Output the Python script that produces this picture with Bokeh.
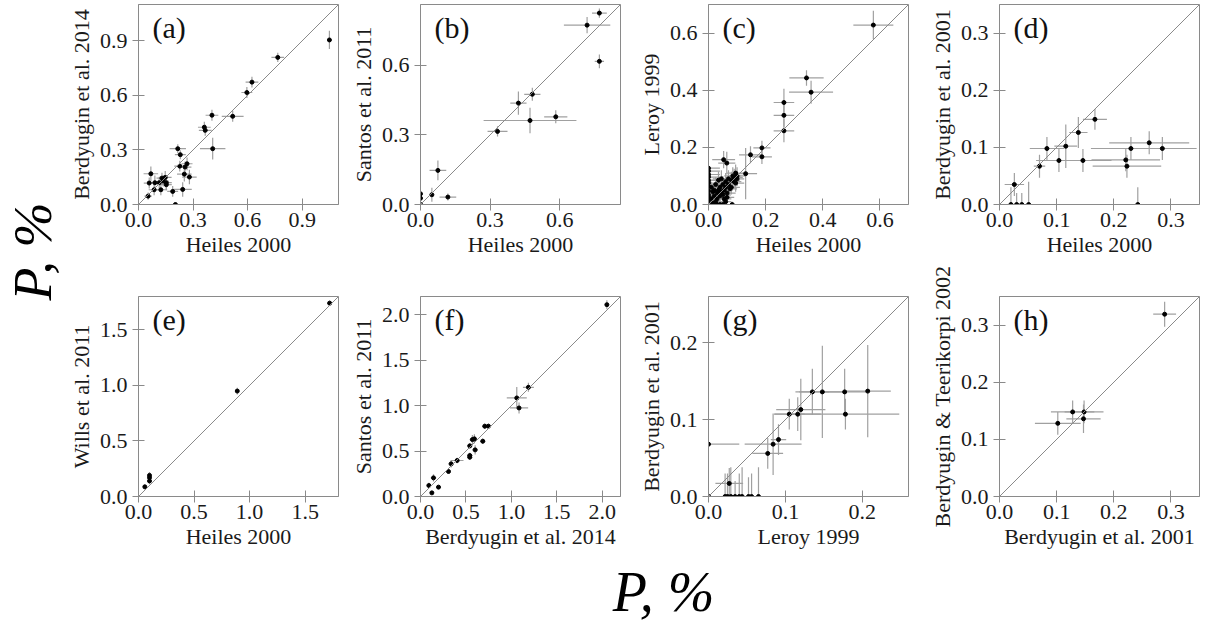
import numpy as np
from math import pi
from bokeh.plotting import figure
from bokeh.models import Range1d, FixedTicker, NumeralTickFormatter, Slope, Label
from bokeh.layouts import row, column
from bokeh.embed import file_html
from bokeh.resources import INLINE

FONT = "Liberation Serif"
GRAY = "#8a8a8a"
ERR = "#a0a0a0"

# ---------------- data ----------------
# (a) Heiles 2000 vs Berdyugin et al. 2014
a_x = [0.766, 0.624, 0.596, 0.518, 0.404, 0.362, 0.367, 0.408, 0.216, 0.230, 0.267, 0.227, 0.256, 0.252, 0.280,
       0.243, 0.188, 0.203, 0.068, 0.059, 0.090, 0.114, 0.129, 0.147, 0.136, 0.153, 0.123, 0.086, 0.053, 0.153, 1.05]
a_y = [0.809, 0.673, 0.616, 0.485, 0.491, 0.425, 0.408, 0.307, 0.307, 0.274, 0.224, 0.211, 0.206, 0.167, 0.151,
       0.083, 0.072, 0.000, 0.169, 0.118, 0.120, 0.120, 0.145, 0.149, 0.129, 0.120, 0.081, 0.081, 0.046, 0.109, 0.905]
a_xe = [0.035, 0.035, 0.030, 0.060, 0.035, 0.035, 0.035, 0.070, 0.045, 0.030, 0.030, 0.030, 0.035, 0.040, 0.040,
        0.050, 0.030, 0.010, 0.040, 0.030, 0.040, 0.035, 0.030, 0.035, 0.030, 0.030, 0.035, 0.030, 0.020, 0.030, 0.010]
a_ye = [0.025, 0.030, 0.030, 0.030, 0.030, 0.030, 0.030, 0.060, 0.025, 0.025, 0.035, 0.030, 0.030, 0.040, 0.040,
        0.040, 0.030, 0.010, 0.040, 0.030, 0.040, 0.030, 0.030, 0.035, 0.030, 0.040, 0.030, 0.030, 0.020, 0.030, 0.050]

# (b) Heiles 2000 vs Santos et al. 2011
b_x = [0.771, 0.718, 0.771, 0.482, 0.422, 0.472, 0.583, 0.332, 0.075, 0.049, 0.118, 0.0, 0.0, 0.0]
b_y = [0.825, 0.773, 0.617, 0.475, 0.437, 0.362, 0.378, 0.315, 0.147, 0.042, 0.032, 0.046, 0.027, 0.0]
b_xe = [0.032, 0.100, 0.020, 0.035, 0.035, 0.200, 0.050, 0.043, 0.036, 0.010, 0.036, 0.010, 0.010, 0.0]
b_ye = [0.020, 0.035, 0.030, 0.028, 0.050, 0.055, 0.028, 0.022, 0.043, 0.030, 0.015, 0.010, 0.010, 0.0]

# (c) Heiles 2000 vs Leroy 1999
c_x = [0.577, 0.343, 0.359, 0.264, 0.264, 0.264, 0.187, 0.187, 0.147, 0.130, 0.053, 0.064,
       0.0, 0.0, 0.0, 0.0, 0.0, 0.0, 0.0, 0.0, 0.0, 0.0, 0.0, 0.0,
       0.010, 0.015, 0.020, 0.025, 0.030, 0.030, 0.035, 0.040, 0.040, 0.045, 0.050, 0.050, 0.055, 0.060,
       0.060, 0.065, 0.070, 0.070, 0.075, 0.080, 0.085, 0.090, 0.090, 0.095, 0.100, 0.100, 0.095, 0.020,
       0.025, 0.035, 0.045, 0.055, 0.060, 0.015, 0.010, 0.040, 0.020, 0.030, 0.050, 0.065, 0.080, 0.083]
c_y = [0.628, 0.443, 0.393, 0.357, 0.312, 0.258, 0.198, 0.167, 0.174, 0.108, 0.157, 0.145,
       0.127, 0.117, 0.105, 0.096, 0.084, 0.075, 0.063, 0.047, 0.034, 0.026, 0.014, 0.0,
       0.020, 0.005, 0.030, 0.010, 0.040, 0.020, 0.050, 0.030, 0.060, 0.045, 0.070, 0.035, 0.050, 0.080,
       0.060, 0.040, 0.090, 0.070, 0.055, 0.085, 0.100, 0.095, 0.080, 0.110, 0.100, 0.090, 0.075, 0.050,
       0.070, 0.085, 0.090, 0.020, 0.010, 0.045, 0.060, 0.000, 0.000, 0.000, 0.000, 0.025, 0.060, 0.0]
c_xe = [0.070, 0.060, 0.077, 0.036, 0.036, 0.036, 0.030, 0.035, 0.040, 0.040, 0.040, 0.030,
        0.040, 0.040, 0.040, 0.040, 0.040, 0.040, 0.040, 0.040, 0.040, 0.040, 0.040, 0.040,
        0.020, 0.020, 0.025, 0.020, 0.030, 0.020, 0.030, 0.025, 0.030, 0.030, 0.030, 0.025, 0.030, 0.030,
        0.025, 0.030, 0.030, 0.030, 0.025, 0.030, 0.030, 0.030, 0.025, 0.030, 0.030, 0.025, 0.030, 0.020,
        0.025, 0.030, 0.030, 0.025, 0.020, 0.020, 0.020, 0.020, 0.020, 0.020, 0.020, 0.025, 0.030, 0.010]
c_ye = [0.050, 0.027, 0.040, 0.048, 0.040, 0.040, 0.025, 0.025, 0.030, 0.090, 0.030, 0.040,
        0.010, 0.010, 0.010, 0.010, 0.010, 0.010, 0.010, 0.010, 0.010, 0.010, 0.010, 0.010,
        0.020, 0.015, 0.020, 0.020, 0.025, 0.020, 0.025, 0.020, 0.030, 0.025, 0.030, 0.025, 0.025, 0.030,
        0.025, 0.025, 0.030, 0.030, 0.025, 0.030, 0.030, 0.030, 0.025, 0.030, 0.030, 0.025, 0.030, 0.020,
        0.025, 0.030, 0.030, 0.020, 0.015, 0.020, 0.020, 0.020, 0.020, 0.020, 0.020, 0.020, 0.025, 0.010]

# (d) Heiles 2000 vs Berdyugin et al. 2001
d_x = [0.167, 0.138, 0.116, 0.083, 0.070, 0.104, 0.146, 0.221, 0.223, 0.230, 0.262, 0.285, 0.242, 0.026,
       0.020, 0.030, 0.039, 0.051]
d_y = [0.149, 0.126, 0.102, 0.098, 0.067, 0.077, 0.077, 0.078, 0.067, 0.098, 0.108, 0.098, 0.0, 0.035,
       0.0, 0.0, 0.0, 0.0]
d_xe = [0.021, 0.016, 0.020, 0.030, 0.010, 0.040, 0.050, 0.060, 0.060, 0.070, 0.070, 0.060, 0.005, 0.017,
        0.005, 0.005, 0.005, 0.005]
d_ye = [0.018, 0.027, 0.038, 0.020, 0.020, 0.020, 0.020, 0.020, 0.020, 0.020, 0.020, 0.020, 0.030, 0.020,
        0.030, 0.020, 0.020, 0.040]

# (e) Heiles 2000 vs Wills et al. 2011
e_x = [1.72, 0.889, 0.057, 0.099, 0.099, 0.099]
e_y = [1.74, 0.949, 0.087, 0.190, 0.170, 0.140]
e_xe = [0.015, 0.015, 0.015, 0.010, 0.010, 0.010]
e_ye = [0.025, 0.030, 0.020, 0.030, 0.030, 0.030]

# (f) Berdyugin et al. 2014 vs Santos et al. 2011
f_x = [2.05, 1.187, 1.059, 1.084, 0.747, 0.707, 0.685, 0.593, 0.571, 0.601, 0.542, 0.542, 0.542, 0.403,
       0.337, 0.308, 0.143, 0.092, 0.125, 0.198]
f_y = [2.11, 1.201, 1.084, 0.974, 0.773, 0.773, 0.608, 0.634, 0.626, 0.513, 0.557, 0.451, 0.432, 0.396,
       0.359, 0.275, 0.205, 0.121, 0.040, 0.103]
f_xe = [0.020, 0.060, 0.110, 0.100, 0.030, 0.030, 0.030, 0.030, 0.030, 0.030, 0.030, 0.030, 0.030, 0.070,
        0.030, 0.020, 0.030, 0.020, 0.020, 0.020]
f_ye = [0.050, 0.050, 0.120, 0.060, 0.030, 0.030, 0.030, 0.050, 0.050, 0.050, 0.030, 0.030, 0.030, 0.030,
        0.040, 0.020, 0.040, 0.030, 0.020, 0.020]

# (g) Leroy 1999 vs Berdyugin et al. 2001
g_x = [0.207, 0.177, 0.148, 0.135, 0.178, 0.120, 0.116, 0.105, 0.091, 0.084, 0.077, 0.0, 0.027,
       0.0, 0.0216, 0.0247, 0.029, 0.0346, 0.040, 0.0437, 0.052, 0.056, 0.065]
g_y = [0.137, 0.136, 0.136, 0.136, 0.107, 0.113, 0.107, 0.107, 0.074, 0.068, 0.056, 0.068, 0.017,
       0.0, 0.0, 0.0, 0.0, 0.0, 0.0, 0.0, 0.0, 0.0, 0.0]
g_xe = [0.030, 0.030, 0.030, 0.022, 0.070, 0.032, 0.030, 0.020, 0.010, 0.037, 0.020, 0.040, 0.018,
        0.0, 0.002, 0.002, 0.002, 0.002, 0.002, 0.002, 0.002, 0.002, 0.002]
g_ye = [0.060, 0.030, 0.060, 0.030, 0.020, 0.040, 0.022, 0.020, 0.020, 0.040, 0.020, 0.0, 0.020,
        0.0, 0.030, 0.030, 0.038, 0.020, 0.030, 0.038, 0.025, 0.030, 0.038]

# (h) Berdyugin et al. 2001 vs Berdyugin & Teerikorpi 2002
h_x = [0.289, 0.128, 0.148, 0.147, 0.102]
h_y = [0.319, 0.148, 0.148, 0.136, 0.128]
h_xe = [0.020, 0.038, 0.034, 0.030, 0.040]
h_ye = [0.022, 0.020, 0.020, 0.025, 0.020]

# panel settings: tag, data, axis limit, ticks, xlabel, ylabel
panels = [
    ("(a)", a_x, a_y, a_xe, a_ye, 1.10, [0, 0.3, 0.6, 0.9], "Heiles 2000", "Berdyugin et al. 2014"),
    ("(b)", b_x, b_y, b_xe, b_ye, 0.862, [0, 0.3, 0.6], "Heiles 2000", "Santos et al. 2011"),
    ("(c)", c_x, c_y, c_xe, c_ye, 0.70, [0, 0.2, 0.4, 0.6], "Heiles 2000", "Leroy 1999"),
    ("(d)", d_x, d_y, d_xe, d_ye, 0.35, [0, 0.1, 0.2, 0.3], "Heiles 2000", "Berdyugin et al. 2001"),
    ("(e)", e_x, e_y, e_xe, e_ye, 1.80, [0, 0.5, 1.0, 1.5], "Heiles 2000", "Wills et al. 2011"),
    ("(f)", f_x, f_y, f_xe, f_ye, 2.20, [0, 0.5, 1.0, 1.5, 2.0], "Berdyugin et al. 2014", "Santos et al. 2011"),
    ("(g)", g_x, g_y, g_xe, g_ye, 0.26, [0, 0.1, 0.2], "Leroy 1999", "Berdyugin et al. 2001"),
    ("(h)", h_x, h_y, h_xe, h_ye, 0.35, [0, 0.1, 0.2, 0.3], "Berdyugin et al. 2001", "Berdyugin & Teerikorpi 2002"),
]

# column geometry: (figure width, left border, right border)
cols = [(277, 75, 2), (285, 80, 5), (285, 83, 2), (296, 89, 7)]
# row geometry: (figure height, top border, bottom border)
rows_geo = [(260, 4, 56), (292, 36, 56)]


def make_panel(i, spec):
    tag, xs, ys, xe, ye, lim, ticks, xlabel, ylabel = spec
    w, bl, br = cols[i % 4]
    h, bt, bb = rows_geo[i // 4]
    p = figure(width=w, height=h, x_range=Range1d(0, lim), y_range=Range1d(0, lim),
               output_backend="svg", toolbar_location=None,
               min_border_left=bl, min_border_right=br, min_border_top=bt, min_border_bottom=bb)
    p.xgrid.visible = False
    p.ygrid.visible = False
    p.outline_line_color = GRAY
    p.outline_line_alpha = 1.0
    p.outline_line_width = 1
    p.background_fill_color = "white"
    p.border_fill_color = "white"

    p.add_layout(Slope(gradient=1, y_intercept=0, line_color=GRAY, line_width=1))

    x = np.array(xs, dtype=float)
    y = np.array(ys, dtype=float)
    ex = np.array(xe, dtype=float)
    ey = np.array(ye, dtype=float)
    p.segment(x0=x - ex, y0=y, x1=x + ex, y1=y, line_color=ERR, line_width=1.2)
    p.segment(x0=x, y0=y - ey, x1=x, y1=y + ey, line_color=ERR, line_width=1.2)
    p.scatter(x, y, size=4, color="black", line_color="black")

    for ax in (p.xaxis[0], p.yaxis[0]):
        ax.ticker = FixedTicker(ticks=ticks)
        ax.formatter = NumeralTickFormatter(format="0.0")
        ax.major_tick_in = 6
        ax.major_tick_out = 6
        ax.minor_tick_line_color = None
        ax.axis_line_color = GRAY
        ax.major_tick_line_color = GRAY
        ax.major_label_text_font = FONT
        ax.major_label_text_font_size = "22px"
        ax.major_label_text_color = "#1a1a1a"
        ax.axis_label_text_font = FONT
        ax.axis_label_text_font_size = "22px"
        ax.axis_label_text_font_style = "normal"
        ax.axis_label_text_color = "#1a1a1a"
    p.xaxis.axis_label = xlabel
    p.yaxis.axis_label = ylabel
    p.yaxis.major_label_standoff = 5
    p.xaxis.major_label_standoff = 2
    p.yaxis.axis_label_standoff = 3
    p.xaxis.axis_label_standoff = 2

    p.add_layout(Label(x=14, y=177, x_units="screen", y_units="screen", text=tag,
                       text_font=FONT, text_font_size="30px", text_color="#111111",
                       text_baseline="alphabetic"))
    return p


figs = [make_panel(i, s) for i, s in enumerate(panels)]


def blank(w, h):
    p = figure(width=w, height=h, x_range=Range1d(0, w), y_range=Range1d(0, h),
               output_backend="svg", toolbar_location=None, min_border=0,
               x_axis_location=None, y_axis_location=None)
    p.grid.visible = False
    p.outline_line_color = None
    return p


left = blank(63, 552)
left.add_layout(Label(x=32, y=301, text="P, %", angle=pi / 2, text_align="center",
                      text_baseline="alphabetic", text_font=FONT, text_font_size="54px",
                      text_font_style="italic", text_color="black"))
bottom = blank(1206, 72)
bottom.add_layout(Label(x=663, y=33, text="P, %", text_align="center",
                        text_baseline="alphabetic", text_font=FONT, text_font_size="56px",
                        text_font_style="italic", text_color="black"))

grid = column(row(*figs[:4]), row(*figs[4:]))
layout = column(row(left, grid), bottom)

open("out.html", "w").write(file_html(layout, INLINE))
